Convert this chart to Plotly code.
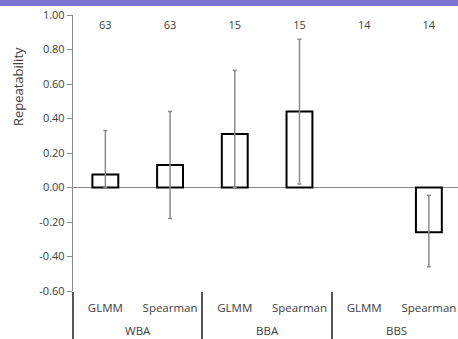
import plotly.graph_objects as go

groups = ["WBA", "WBA", "BBA", "BBA", "BBS", "BBS"]
methods = ["GLMM", "Spearman", "GLMM", "Spearman", "GLMM", "Spearman"]
repeatability = [0.075, 0.13, 0.31, 0.44, None, -0.26]
ci_upper = [0.33, 0.44, 0.68, 0.86, None, -0.045]
ci_lower = [0.0, -0.18, 0.0, 0.02, None, -0.46]
sample_sizes = ["63", "63", "15", "15", "14", "14"]
ytick_vals = [-0.6, -0.4, -0.2, 0.0, 0.2, 0.4, 0.6, 0.8, 1.0]
ytick_text = ["-0.60", "-0.40", "-0.20", "0.00", "0.20", "0.40", "0.60", "0.80", "1.00"]

plus = [None if v is None else u - v for v, u in zip(repeatability, ci_upper)]
minus = [None if v is None else v - l for v, l in zip(repeatability, ci_lower)]

# leading line break pushes the group level further below the method level
group_labels = ["<br>" + g for g in groups]

FONT = "Open Sans"
TXT = "#404040"
AX = "#8a8a8a"

fig = go.Figure()
fig.add_trace(go.Bar(
    x=[group_labels, methods], y=repeatability, width=0.4,
    marker=dict(color="white", line=dict(color="black", width=2)),
    error_y=dict(type="data", array=plus, arrayminus=minus, symmetric=False,
                 color="#8c8c8c", thickness=1.5, width=2),
    showlegend=False, hoverinfo="skip",
))
fig.add_trace(go.Scatter(
    x=[group_labels, methods], y=[0.935] * len(sample_sizes), mode="text",
    text=sample_sizes, textfont=dict(family=FONT, size=11, color=TXT),
    showlegend=False, cliponaxis=False, hoverinfo="skip",
))

fig.update_layout(
    width=458, height=339,
    margin=dict(l=73, r=0, t=15, b=48, autoexpand=False),
    paper_bgcolor="white", plot_bgcolor="white",
    font=dict(family=FONT, size=11, color=TXT),
    xaxis=dict(type="multicategory", showline=False, showgrid=False, zeroline=False,
               ticks="", ticklabelstandoff=8,
               showdividers=True, dividercolor="#555555", dividerwidth=1.5,
               tickfont=dict(family=FONT, size=11.5, color=TXT),
               range=[-0.5, 5.45], automargin=False),
    yaxis=dict(range=[-0.6, 1.0], tickvals=ytick_vals, ticktext=ytick_text,
               showline=True, linecolor=AX, linewidth=1.3,
               ticks="outside", ticklen=5, tickcolor=AX, tickwidth=1.3,
               showgrid=False, zeroline=True, zerolinecolor=AX, zerolinewidth=1.3,
               tickfont=dict(family=FONT, size=11, color=TXT), automargin=False),
    shapes=[dict(type="rect", xref="paper", yref="paper", x0=-0.3, x1=1.1,
                 y0=1.0326, y1=1.07, fillcolor="#7a73cf", line=dict(width=0), layer="above")],
    annotations=[dict(text="Repeatability", xref="paper", yref="paper",
                      x=-(73 - 18) / 385, y=(290.7 - 87) / 275.7, textangle=-90,
                      xanchor="center", yanchor="middle", showarrow=False,
                      font=dict(family=FONT, size=13, color=TXT))],
)

fig.write_html("out.html", config={"displayModeBar": False},
               post_script="document.body.style.margin='0';document.body.style.overflow='hidden';")
